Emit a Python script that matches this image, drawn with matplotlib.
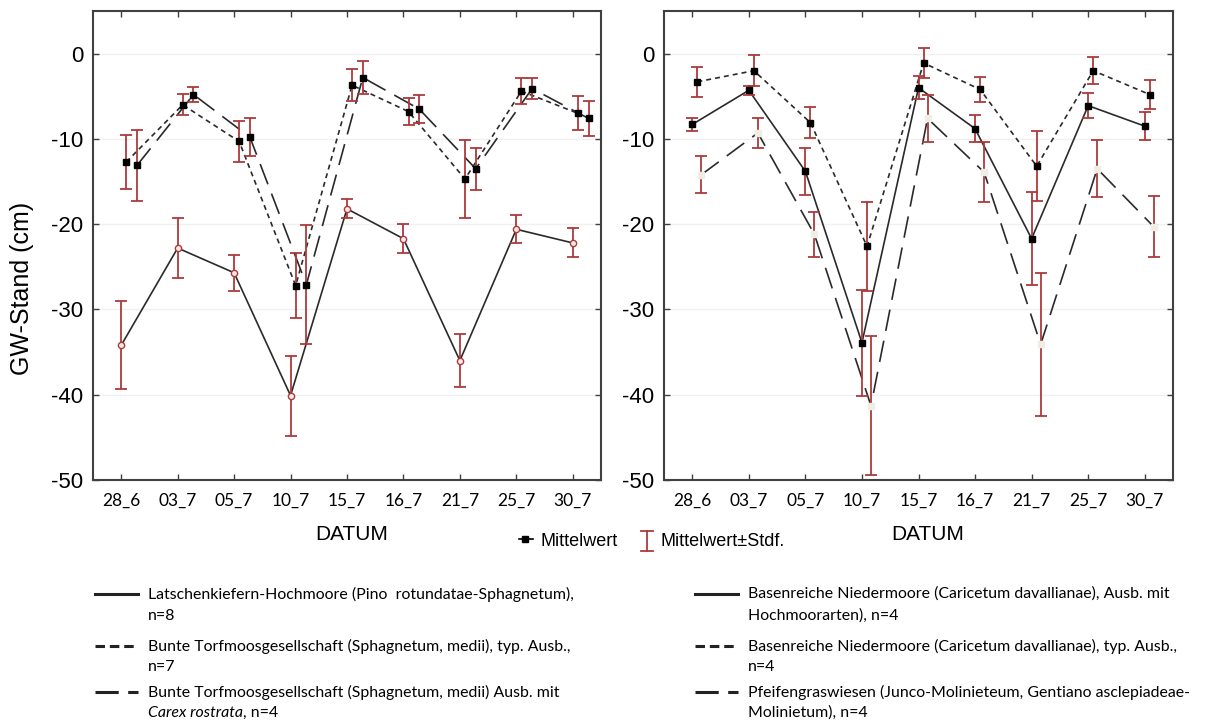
import numpy as np
import matplotlib
matplotlib.use("Agg")
import matplotlib.pyplot as plt
from matplotlib.lines import Line2D
from matplotlib.text import Annotation

# Messtermine
dates = ['28_6', '03_7', '05_7', '10_7', '15_7', '16_7', '21_7', '25_7', '30_7']

# linke Grafik: Hochmoore
latsch_mean = [-34.2, -22.8, -25.7, -40.1, -18.2, -21.7, -36.0, -20.6, -22.2]
latsch_sd   = [5.15, 3.5, 2.1, 4.7, 1.1, 1.7, 3.1, 1.65, 1.7]
bunte_mean  = [-12.7, -6.0, -10.3, -27.2, -3.7, -6.8, -14.7, -4.4, -7.0]
bunte_sd    = [3.2, 1.25, 2.35, 3.85, 1.85, 1.55, 4.55, 1.55, 2.0]
carex_mean  = [-13.1, -4.8, -9.8, -27.1, -2.8, -6.5, -13.5, -4.1, -7.6]
carex_sd    = [4.15, 0.85, 2.25, 7.0, 1.9, 1.65, 2.45, 1.25, 2.05]

# rechte Grafik: Niedermoore / Pfeifengraswiesen
hoch_mean  = [-8.3, -4.3, -13.8, -33.9, -4.0, -8.8, -21.7, -6.1, -8.5]
hoch_sd    = [0.8, 0.55, 2.75, 6.2, 1.35, 1.6, 5.45, 1.5, 1.65]
typ_mean   = [-3.3, -2.0, -8.1, -22.6, -1.1, -4.2, -13.2, -2.0, -4.8]
typ_sd     = [1.75, 1.8, 1.8, 5.25, 1.75, 1.5, 4.1, 1.6, 1.65]
pfeif_mean = [-14.2, -9.3, -21.2, -41.3, -7.6, -13.9, -34.1, -13.5, -20.3]
pfeif_sd   = [2.15, 1.8, 2.65, 8.15, 2.75, 3.55, 8.4, 3.35, 3.6]

left_labels = [
    ["Latschenkiefern-Hochmoore (Pino  rotundatae-Sphagnetum),", "n=8"],
    ["Bunte Torfmoosgesellschaft (Sphagnetum, medii), typ. Ausb.,", "n=7"],
    ["Bunte Torfmoosgesellschaft (Sphagnetum, medii) Ausb. mit", None],
]
right_labels = [
    ["Basenreiche Niedermoore (Caricetum davallianae), Ausb. mit", "Hochmoorarten), n=4"],
    ["Basenreiche Niedermoore (Caricetum davallianae), typ. Ausb.,", "n=4"],
    ["Pfeifengraswiesen (Junco-Molinieteum, Gentiano asclepiadeae-", "Molinietum), n=4"],
]

RED = '#ad3a3a'
LINE = '#2a2a2a'
SHORT = (0, (3.0, 2.4))
LONG = (0, (13, 6))
LEG_FS = 11.4

W, H = 1228, 722
plt.rcParams['font.family'] = ['Liberation Sans', 'DejaVu Sans']
plt.rcParams['axes.unicode_minus'] = False
fig = plt.figure(figsize=(W / 100, H / 100), dpi=100)


def fx(x):
    return x / W


def fy(y):
    return 1 - y / H


def make_axes(x0, x1):
    ax = fig.add_axes([fx(x0), fy(480), (x1 - x0) / W, (480 - 11) / H])
    ax.set_xlim(-0.5, len(dates) - 0.5)
    ax.set_ylim(-50, 5)
    ax.set_xticks(range(len(dates)))
    ax.set_xticklabels(dates, family='Lato', fontsize=12.5)
    ax.set_yticks(range(-50, 1, 10))
    ax.tick_params(direction='in', top=True, right=True, length=4, width=1, color='#404040')
    ax.tick_params(axis='x', pad=9)
    ax.tick_params(axis='y', labelsize=16, pad=7)
    ax.yaxis.grid(True, color='#f0f0f0', lw=1)
    ax.set_axisbelow(True)
    for s in ax.spines.values():
        s.set_color('#404040')
        s.set_linewidth(1.5)
    return ax


def draw(ax, mean, sd, off, ls, marker='s', mfc='black', mec='black', ms=5):
    x = np.arange(len(dates)) + off
    ax.plot(x, mean, color=LINE, lw=1.2, linestyle=ls, zorder=2)
    ax.errorbar(x, mean, yerr=sd, fmt='none', ecolor=RED, elinewidth=1.3,
                capsize=4.5, capthick=1.3, zorder=3)
    ax.plot(x, mean, linestyle='none', marker=marker, ms=ms, mfc=mfc, mec=mec, mew=1, zorder=4)


ax1 = make_axes(93, 601)
draw(ax1, latsch_mean, latsch_sd, 0.0, '-', marker='o', mfc='#f6eaea', mec=RED, ms=4.5)
draw(ax1, bunte_mean, bunte_sd, 0.09, SHORT)
draw(ax1, carex_mean, carex_sd, 0.28, LONG)

ax2 = make_axes(664, 1173)
draw(ax2, hoch_mean, hoch_sd, 0.0, '-')
draw(ax2, typ_mean, typ_sd, 0.09, SHORT)
draw(ax2, pfeif_mean, pfeif_sd, 0.16, LONG, mfc='#eeeee4', mec='#eeeee4')

fig.text(fx(22), fy(288), 'GW-Stand (cm)', rotation=90, ha='center', va='center', fontsize=18)
fig.text(fx(352), fy(535), 'DATUM', ha='center', va='center', fontsize=15)
fig.text(fx(928), fy(535), 'DATUM', ha='center', va='center', fontsize=15)

# Legende Mittelwert / Stdf.
fig.add_artist(Line2D([fx(519), fx(533)], [fy(539)] * 2, color='black', lw=1.2))
fig.add_artist(Line2D([fx(525)], [fy(539)], marker='s', ms=5, color='black'))
fig.text(fx(540), fy(541), 'Mittelwert', ha='left', va='center', fontsize=13)
fig.add_artist(Line2D([fx(647)] * 2, [fy(531), fy(551)], color=RED, lw=1.3))
for yy in (531, 551):
    fig.add_artist(Line2D([fx(641), fx(653)], [fy(yy)] * 2, color=RED, lw=1.3))
fig.text(fx(661), fy(541), 'Mittelwert\u00b1Stdf.', ha='left', va='center', fontsize=13)

# untere Legenden
rows = [(594, 616), (646, 667), (692, 713)]
styles = ['-', (0, (3.1, 1.6)), (0, (7.6, 3.1))]
for x0, labels in ((95, left_labels), (695, right_labels)):
    for (r1, r2), ls, lab in zip(rows, styles, labels):
        fig.add_artist(Line2D([fx(x0), fx(x0 + 43)], [fy(r1)] * 2, color='#222222',
                              lw=2.2, linestyle=ls))
        fig.text(fx(x0 + 53), fy(r1), lab[0], ha='left', va='center', fontsize=LEG_FS, family='Lato')
        if lab[1] is not None:
            fig.text(fx(x0 + 53), fy(r2), lab[1], ha='left', va='center', fontsize=LEG_FS, family='Lato')

t = fig.text(fx(148), fy(713), 'Carex rostrata', ha='left', va='center', fontsize=LEG_FS,
             family='Lato', style='italic')
fig.add_artist(Annotation(', n=4', xy=(1, 0.5), xycoords=t, va='center', ha='left',
                          fontsize=LEG_FS, family='Lato'))

fig.savefig('out.png', dpi=100)
